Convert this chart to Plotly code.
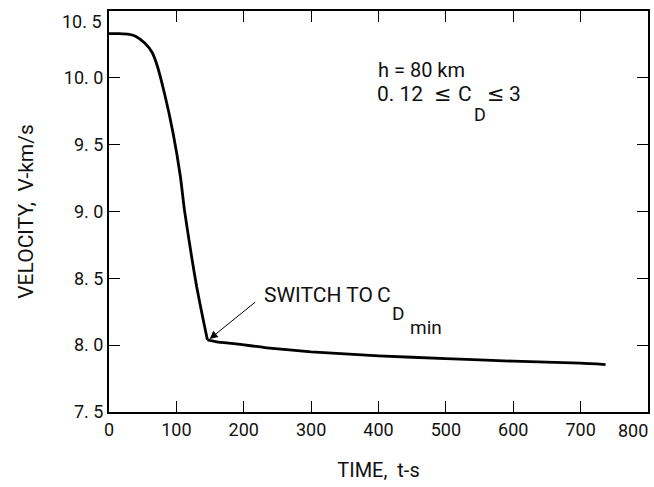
import plotly.graph_objects as go

# Data
# descent phase (high drag) up to the switch point
time_descent = [0, 15, 30, 40, 53, 64, 71, 83, 95, 106, 112, 123, 130, 139, 146]
vel_descent = [10.33, 10.33, 10.325, 10.31, 10.26, 10.19, 10.10, 9.87, 9.59, 9.26,
               9.01, 8.65, 8.44, 8.21, 8.04]
# after switch to minimum drag coefficient
time_cruise = [146, 160, 189, 234, 300, 400, 500, 600, 700, 737]
vel_cruise = [8.04, 8.025, 8.01, 7.98, 7.95, 7.92, 7.90, 7.88, 7.865, 7.855]

x_ticks = [0, 100, 200, 300, 400, 500, 600, 700, 800]
x_tick_labels = ["0", "100", "200", "300", "400", "500", "600", "700", "800"]
y_ticks = [7.5, 8.0, 8.5, 9.0, 9.5, 10.0, 10.5]
y_tick_labels = ["7. 5", "8. 0", "8. 5", "9. 0", "9. 5", "10. 0", "10. 5"]

FONT = "Roboto, Liberation Sans, sans-serif"
SYM_FONT = "DejaVu Sans, sans-serif"

W, H = 654, 487
L, R, T, B = 109, 650, 11, 412


def px(x):
    return (x - L) / (R - L)


def py(y):
    return (B - y) / (B - T)


fig = go.Figure()
fig.add_trace(go.Scatter(x=time_descent, y=vel_descent, mode="lines",
                         line=dict(color="black", width=2.8, shape="spline", smoothing=0.5),
                         showlegend=False, hoverinfo="skip"))
fig.add_trace(go.Scatter(x=time_cruise, y=vel_cruise, mode="lines",
                         line=dict(color="black", width=2.8, shape="spline", smoothing=0.5),
                         showlegend=False, hoverinfo="skip"))

axis_common = dict(showgrid=False, zeroline=False, showline=True, linecolor="black",
                   linewidth=2, mirror="ticks", ticks="inside", ticklen=11,
                   tickcolor="black", tickwidth=1.2,
                   tickfont=dict(family=FONT, size=18, color="#111"))

# edge labels (10.5 and 800) are drawn as text nudged inside, like the reference
x_text_shown = [t if t != "800" else "" for t in x_tick_labels]
y_text_shown = [t if t != "10. 5" else "" for t in y_tick_labels]

fig.update_xaxes(range=[0, 800], tickvals=x_ticks, ticktext=x_text_shown,
                 title=dict(text="TIME,  t-s", font=dict(family=FONT, size=20, color="#111"),
                            standoff=24),
                 **axis_common)
fig.update_yaxes(range=[7.5, 10.5], tickvals=y_ticks, ticktext=y_text_shown,
                 title=dict(text="VELOCITY,  V-km/s", font=dict(family=FONT, size=21, color="#111"),
                            standoff=24),
                 **axis_common)


def label(text, x, y, size=20, anchor="left", family=FONT):
    fig.add_annotation(text=text, xref="paper", yref="paper", x=px(x), y=py(y),
                       xanchor=anchor, yanchor="middle", showarrow=False,
                       font=dict(family=family, size=size, color="#111"))


# edge tick labels
label(x_tick_labels[-1], 652, 430, size=18, anchor="right")
label(y_tick_labels[-1], 104, 22, size=18, anchor="right")

label("h = 80 km", 377, 70, size=20)
label("0. 12", 376, 94, size=21)
label("\u2264", 433, 94, size=21, family=SYM_FONT)
label("C", 457, 94, size=21)
label("D", 473, 115, size=18)
label("\u2264", 486, 94, size=21, family=SYM_FONT)
label("3", 508, 94, size=21)

label("SWITCH TO", 263, 295, size=21)
label("C", 376, 295, size=21)
label("D", 391, 313, size=19)
label("min", 409, 327, size=19)

# arrow pointing to the switch point on the curve
head_t = (210 - L) / (R - L) * 800
head_v = 10.5 - (339 - T) / (B - T) * 3.0
fig.add_annotation(x=head_t, y=head_v, xref="x", yref="y", ax=47, ay=-38,
                   text="", showarrow=True, arrowhead=2, arrowsize=1.6, arrowwidth=1,
                   arrowcolor="black")

fig.update_layout(width=W, height=H, margin=dict(l=L, r=W - R, t=T, b=H - B),
                  plot_bgcolor="white", paper_bgcolor="white",
                  font=dict(family=FONT, color="#111"))

fig.write_html("out.html")
